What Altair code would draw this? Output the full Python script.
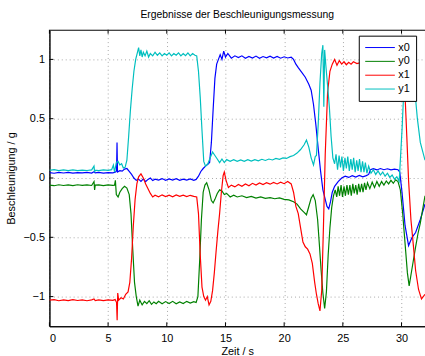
import altair as alt
import pandas as pd

SERIES = ["x0", "y0", "x1", "y1"]
COLORS = ["#0000ff", "#008000", "#ff0000", "#00bfbf"]
X_TICKS = [0, 5, 10, 15, 20, 25, 30]
Y_TICKS = [-1, -0.5, 0, 0.5, 1]

X0 = [(0.0,0.045),(0.4,0.040),(0.8,0.048),(1.2,0.042),(1.6,0.047),(2.0,0.041),(2.4,0.046),(2.8,0.043),
      (3.2,0.047),(3.6,0.042),(3.8,0.052),(3.9,0.043),(4.2,0.047),(4.6,0.041),(5.0,0.046),(5.4,0.043),
      (5.6,0.048),(5.72,0.06),(5.76,0.30),(5.8,0.05),(6.0,0.062),(6.2,0.058),(6.4,0.075),(6.6,0.08),
      (6.8,0.055),(7.0,0.03),(7.2,0.0),(7.4,-0.02),(7.6,-0.01),(7.8,-0.028),(8.0,-0.008),(8.2,-0.03),
      (8.4,-0.012),(8.6,0.0),(8.8,-0.022),(9.0,-0.01),(9.3,-0.018),(9.6,-0.005),(9.9,-0.02),(10.2,-0.008),
      (10.5,-0.018),(10.8,-0.006),(11.1,-0.02),(11.4,-0.01),(11.7,-0.017),(12.0,-0.008),(12.3,-0.02),
      (12.5,-0.012),(12.7,0.015),(12.9,0.055),(13.1,0.08),(13.3,0.1),(13.5,0.115),(13.65,0.13),(13.8,0.3),
      (13.95,0.58),(14.1,0.84),(14.25,0.96),(14.4,1.0),(14.55,1.04),(14.7,1.0),(14.85,1.07),(15.0,1.02),
      (15.2,1.05),(15.5,1.01),(15.8,1.03),(16.1,1.015),(16.4,1.03),(16.7,1.01),(17.0,1.025),(17.3,1.012),
      (17.6,1.028),(17.9,1.01),(18.2,1.024),(18.5,1.013),(18.8,1.027),(19.1,1.012),(19.4,1.025),(19.7,1.01),
      (20.0,1.022),(20.3,1.012),(20.6,1.018),(20.8,1.0),(21.0,0.96),(21.2,0.93),(21.5,0.89),(21.8,0.85),
      (22.1,0.79),(22.3,0.74),(22.5,0.62),(22.7,0.45),(22.9,0.25),(23.1,0.06),(23.3,-0.1),(23.5,-0.18),
      (23.65,-0.24),(23.8,-0.26),(23.95,-0.2),(24.1,-0.12),(24.3,-0.07),(24.6,-0.03),(24.9,0.0),(25.2,0.015),
      (25.5,0.005),(25.8,0.02),(26.1,0.008),(26.4,0.022),(26.7,0.01),(27.0,0.02),(27.2,0.03),(27.35,0.07),
      (27.6,0.078),(27.9,0.068),(28.2,0.08),(28.5,0.07),(28.8,0.078),(29.1,0.068),(29.4,0.075),(29.7,0.07),
      (29.85,0.05),(30.05,-0.13),(30.3,-0.4),(30.6,-0.57),(30.9,-0.5),(31.2,-0.46),(31.6,-0.35),(32.0,-0.22)]

Y0 = [(0.0,-0.06),(0.4,-0.065),(0.8,-0.057),(1.2,-0.063),(1.6,-0.058),(2.0,-0.064),(2.4,-0.057),(2.8,-0.062),
      (3.2,-0.058),(3.6,-0.063),(3.8,-0.03),(3.85,-0.1),(3.9,-0.06),(4.2,-0.058),(4.6,-0.064),(5.0,-0.058),
      (5.4,-0.062),(5.55,-0.06),(5.62,-0.02),(5.7,-0.14),(5.85,-0.16),(6.0,-0.12),(6.2,-0.09),(6.4,-0.07),
      (6.6,-0.085),(6.8,-0.14),(6.95,-0.3),(7.1,-0.6),(7.25,-0.88),(7.4,-1.0),(7.55,-1.08),(7.7,-1.03),
      (7.9,-1.07),(8.1,-1.04),(8.3,-1.06),(8.5,-1.035),(8.7,-1.065),(8.9,-1.045),(9.1,-1.06),(9.3,-1.04),
      (9.6,-1.06),(9.9,-1.042),(10.2,-1.058),(10.5,-1.04),(10.8,-1.06),(11.1,-1.045),(11.4,-1.058),
      (11.7,-1.04),(12.0,-1.055),(12.3,-1.042),(12.5,-1.05),(12.65,-1.0),(12.8,-0.7),(12.95,-0.35),
      (13.1,-0.12),(13.25,-0.06),(13.4,-0.04),(13.6,-0.1),(13.8,-0.19),(13.95,-0.21),(14.1,-0.18),
      (14.3,-0.13),(14.5,-0.1),(14.7,-0.11),(14.9,-0.14),(15.1,-0.13),(15.4,-0.16),(15.7,-0.145),(16.0,-0.16),
      (16.4,-0.15),(16.8,-0.165),(17.2,-0.155),(17.6,-0.17),(18.0,-0.16),(18.4,-0.172),(18.8,-0.165),
      (19.2,-0.175),(19.6,-0.168),(20.0,-0.18),(20.4,-0.185),(20.8,-0.2),(21.1,-0.22),(21.4,-0.26),
      (21.7,-0.29),(21.9,-0.31),(22.1,-0.24),(22.3,-0.17),(22.47,-0.14),(22.65,-0.19),(22.85,-0.35),
      (23.0,-0.56),(23.15,-0.78),(23.3,-0.97),(23.45,-1.1),(23.6,-0.96),(23.75,-0.65),(23.9,-0.42),
      (24.05,-0.25),(24.2,-0.15),(24.35,-0.1),(24.48,-0.16),(24.6,-0.07),(24.72,-0.15),(24.85,-0.06),
      (24.97,-0.16),(25.1,-0.07),(25.22,-0.15),(25.35,-0.06),(25.47,-0.14),(25.6,-0.06),(25.72,-0.15),
      (25.85,-0.05),(25.97,-0.13),(26.1,-0.06),(26.22,-0.14),(26.35,-0.05),(26.47,-0.12),(26.6,-0.05),
      (26.72,-0.12),(26.85,-0.04),(26.97,-0.1),(27.1,-0.04),(27.3,-0.09),(27.5,-0.035),(27.7,-0.08),
      (27.9,-0.03),(28.1,-0.07),(28.3,-0.03),(28.5,-0.06),(28.7,-0.025),(28.9,-0.05),(29.1,-0.02),
      (29.3,-0.045),(29.5,-0.015),(29.7,-0.03),(29.9,-0.1),(30.1,-0.3),(30.3,-0.55),(30.5,-0.8),
      (30.65,-0.91),(30.8,-0.82),(31.0,-0.7),(31.2,-0.58),(31.4,-0.47),(31.6,-0.38),(32.0,-0.15)]

X1 = [(0.0,-1.03),(0.4,-1.025),(0.8,-1.035),(1.2,-1.027),(1.6,-1.034),(2.0,-1.026),(2.4,-1.033),(2.8,-1.028),
      (3.2,-1.035),(3.6,-1.027),(3.8,-1.02),(3.9,-1.033),(4.2,-1.028),(4.6,-1.034),(5.0,-1.027),(5.4,-1.032),
      (5.6,-1.025),(5.72,-1.05),(5.77,-1.2),(5.82,-0.97),(5.9,-1.03),(6.1,-1.01),(6.3,-1.02),(6.5,-0.98),
      (6.7,-0.96),(6.85,-0.88),(7.0,-0.68),(7.15,-0.4),(7.3,-0.18),(7.45,-0.05),(7.6,0.01),(7.8,0.035),
      (8.0,0.0),(8.2,-0.05),(8.4,-0.09),(8.6,-0.13),(8.8,-0.16),(9.0,-0.145),(9.3,-0.158),(9.6,-0.142),
      (9.9,-0.156),(10.2,-0.145),(10.5,-0.158),(10.8,-0.143),(11.1,-0.155),(11.4,-0.145),(11.7,-0.157),
      (12.0,-0.146),(12.3,-0.155),(12.55,-0.16),(12.7,-0.3),(12.85,-0.65),(13.0,-0.92),(13.15,-1.0),
      (13.3,-1.03),(13.45,-1.0),(13.6,-1.07),(13.75,-1.04),(13.9,-0.95),(14.05,-0.8),(14.2,-0.62),
      (14.35,-0.45),(14.5,-0.3),(14.65,-0.12),(14.8,0.02),(14.9,0.05),(15.05,-0.02),(15.25,-0.08),
      (15.5,-0.06),(15.8,-0.075),(16.1,-0.055),(16.4,-0.07),(16.7,-0.05),(17.0,-0.065),(17.3,-0.045),
      (17.6,-0.06),(17.9,-0.042),(18.2,-0.055),(18.5,-0.04),(18.8,-0.052),(19.1,-0.038),(19.4,-0.05),
      (19.7,-0.035),(20.0,-0.048),(20.3,-0.03),(20.6,-0.05),(20.8,-0.12),(21.0,-0.24),(21.2,-0.3),
      (21.4,-0.42),(21.6,-0.54),(21.8,-0.58),(22.0,-0.6),(22.2,-0.64),(22.4,-0.72),(22.6,-0.88),
      (22.75,-0.98),(22.9,-1.06),(23.05,-1.12),(23.2,-0.95),(23.35,-0.4),(23.5,0.2),(23.7,0.72),
      (23.9,0.9),(24.1,0.96),(24.3,1.0),(24.5,0.95),(24.7,0.99),(24.9,0.96),(25.1,0.98),(25.3,0.955),
      (25.5,0.975),(25.7,0.96),(25.9,0.98),(26.2,0.965),(26.6,0.975),(27.0,0.96),(27.5,0.97),(28.0,0.96),
      (28.5,0.97),(29.0,0.96),(29.5,0.965),(29.9,0.95),(30.1,0.93),(30.3,0.7),(30.45,0.35),(30.6,-0.02),
      (30.8,-0.35),(31.0,-0.56),(31.2,-0.78),(31.45,-0.94),(31.7,-1.02),(32.0,-0.98)]

Y1 = [(0.0,0.065),(0.4,0.07),(0.8,0.062),(1.2,0.068),(1.6,0.063),(2.0,0.069),(2.4,0.062),(2.8,0.067),
      (3.2,0.063),(3.6,0.068),(3.8,0.1),(3.85,0.05),(3.9,0.066),(4.2,0.062),(4.6,0.068),(5.0,0.064),
      (5.3,0.07),(5.45,0.11),(5.55,0.05),(5.7,0.13),(5.85,0.14),(6.0,0.11),(6.15,0.12),(6.3,0.085),
      (6.45,0.09),(6.6,0.15),(6.75,0.35),(6.9,0.57),(7.05,0.75),(7.2,0.9),(7.35,1.0),(7.5,1.06),(7.6,1.1),
      (7.7,1.03),(7.8,1.08),(7.9,1.02),(8.0,1.06),(8.15,1.03),(8.3,1.07),(8.45,1.02),(8.6,1.05),(8.8,1.03),
      (9.0,1.06),(9.2,1.035),(9.4,1.055),(9.6,1.03),(9.8,1.05),(10.0,1.035),(10.2,1.055),(10.4,1.03),
      (10.6,1.05),(10.8,1.035),(11.0,1.055),(11.2,1.03),(11.4,1.05),(11.6,1.032),(11.8,1.055),(12.0,1.03),
      (12.2,1.05),(12.4,1.035),(12.55,1.03),(12.7,0.9),(12.85,0.68),(13.0,0.4),(13.15,0.14),(13.3,0.1),
      (13.5,0.12),(13.7,0.17),(13.9,0.22),(14.1,0.19),(14.3,0.16),(14.5,0.13),(14.7,0.16),(14.9,0.13),
      (15.1,0.155),(15.4,0.14),(15.7,0.155),(16.0,0.14),(16.3,0.152),(16.6,0.14),(16.9,0.155),(17.2,0.142),
      (17.5,0.155),(17.8,0.145),(18.1,0.158),(18.4,0.148),(18.7,0.16),(19.0,0.152),(19.3,0.165),(19.6,0.158),
      (19.9,0.17),(20.2,0.165),(20.5,0.18),(20.8,0.19),(21.1,0.21),(21.4,0.24),(21.7,0.28),(21.9,0.32),
      (22.1,0.26),(22.3,0.17),(22.5,0.11),(22.65,0.18),(22.75,0.19),(22.9,0.45),(23.05,0.8),(23.2,1.05),
      (23.3,1.12),(23.38,0.6),(23.45,1.08),(23.55,0.95),(23.7,0.78),(23.85,0.6),(24.0,0.35),(24.15,0.17),
      (24.3,0.12),(24.42,0.2),(24.55,0.07),(24.68,0.19),(24.8,0.09),(24.92,0.18),(25.05,0.06),(25.18,0.17),
      (25.3,0.08),(25.42,0.18),(25.55,0.06),(25.68,0.16),(25.8,0.07),(25.92,0.17),(26.05,0.05),(26.18,0.15),
      (26.3,0.06),(26.42,0.16),(26.55,0.05),(26.68,0.14),(26.8,0.05),(26.92,0.13),(27.05,0.04),(27.2,0.1),
      (27.4,0.04),(27.6,0.07),(27.8,0.03),(28.0,0.06),(28.2,0.025),(28.4,0.05),(28.6,0.015),(28.8,0.04),
      (29.0,0.005),(29.2,0.025),(29.4,-0.01),(29.6,0.01),(29.8,-0.03),(30.05,0.42),(30.3,0.97),(30.6,1.05),
      (30.9,0.95),(31.15,0.72),(31.35,0.5),(31.6,0.3),(32.0,0.15)]

rows = []
for name, pts in zip(SERIES, [X0, Y0, X1, Y1]):
    for t, v in pts:
        rows.append({"t": t, "a": v, "s": name})
df = pd.DataFrame(rows)
xt_df = pd.DataFrame({"t": X_TICKS})
yt_df = pd.DataFrame({"a": Y_TICKS})

FONT = "Liberation Sans"
W, H = 380, 300

x_scale = alt.Scale(domain=[0, 32], nice=False, zero=False)
y_scale = alt.Scale(domain=[-1.25, 1.25], nice=False, zero=False)

x_enc = alt.X("t:Q", scale=x_scale,
              axis=alt.Axis(values=X_TICKS, title="Zeit / s", labelPadding=6, titlePadding=3))
y_enc = alt.Y("a:Q", scale=y_scale,
              axis=alt.Axis(values=Y_TICKS, format=".1~f", title="Beschleunigung / g",
                            labelPadding=5, titleX=-38, titleY=150, titleBaseline="middle",
                            titleAlign="center", titleAngle=270))
c_enc = alt.Color("s:N", scale=alt.Scale(domain=SERIES, range=COLORS),
                  legend=alt.Legend(title=None, orient="none", legendX=313, legendY=6,
                                    symbolType="stroke", symbolSize=900, symbolStrokeWidth=1,
                                    strokeColor="black", fillColor="white", padding=6,
                                    clipHeight=12, rowPadding=2, labelFontSize=11, labelFont=FONT,
                                    labelOffset=3, labelColor="black"))

layers = []
for name in SERIES:
    layers.append(
        alt.Chart(df).transform_filter(alt.datum.s == name)
        .mark_line(strokeWidth=1.2, clip=True)
        .encode(x=x_enc, y=y_enc, color=c_enc)
    )

# inward tick marks on bottom, top and left frame edges
tick_bottom = alt.Chart(xt_df).mark_rule(color="black", strokeWidth=1).encode(
    x=alt.X("t:Q", scale=x_scale), y=alt.value(H), y2=alt.value(H - 4))
tick_top = alt.Chart(xt_df).mark_rule(color="black", strokeWidth=1).encode(
    x=alt.X("t:Q", scale=x_scale), y=alt.value(0), y2=alt.value(4))
tick_left = alt.Chart(yt_df).mark_rule(color="black", strokeWidth=1).encode(
    y=alt.Y("a:Q", scale=y_scale), x=alt.value(0), x2=alt.value(4))

chart = alt.layer(*layers, tick_bottom, tick_top, tick_left).properties(
    width=W, height=H,
    title=alt.TitleParams("Ergebnisse der Beschleunigungsmessung", fontSize=10.5,
                          fontWeight="normal", font=FONT, anchor="middle", offset=9, color="black"),
    autosize=alt.AutoSizeParams(type="none"),
    padding={"left": 50, "top": 28, "right": 0, "bottom": 28},
).configure_axis(
    domainColor="black", tickSize=0, grid=True, gridDash=[1, 3], gridColor="#a8a8a8",
    labelFont=FONT, labelFontSize=11, labelColor="black", titleFont=FONT, titleFontSize=11,
    titleFontWeight="normal", titleColor="black",
).configure_view(stroke="black", strokeWidth=1)

chart.save("out.html", embed_options={"renderer": "svg", "actions": False})
